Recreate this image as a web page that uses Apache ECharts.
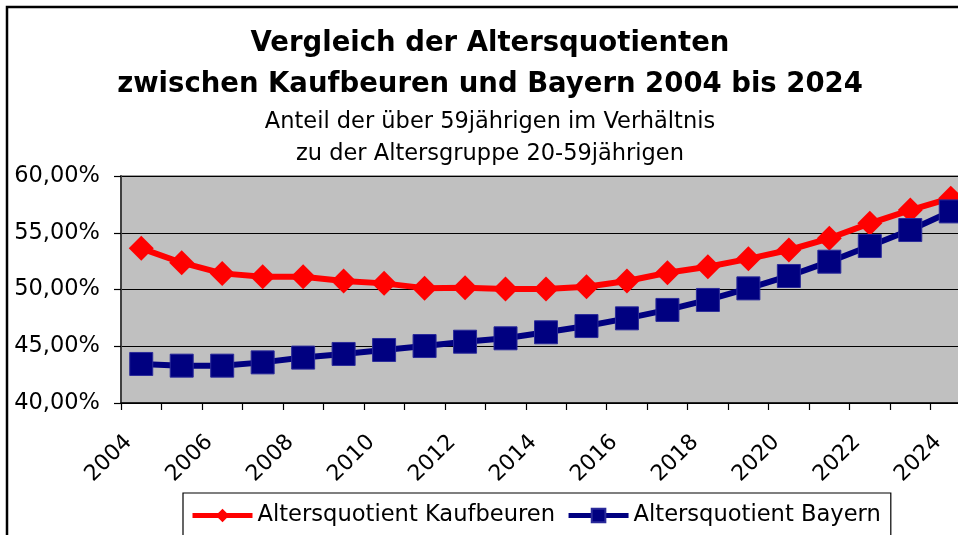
<!DOCTYPE html>
<html>
<head>
<meta charset="utf-8">
<script src="https://cdn.jsdelivr.net/npm/echarts@6/dist/echarts.min.js"></script>
<style>
html,body{margin:0;padding:0;background:#fff;}
#c{width:958px;height:535px;}
</style>
</head>
<body>
<div id="c"></div>
<script>
const years = ['2004','2005','2006','2007','2008','2009','2010','2011','2012','2013','2014','2015','2016','2017','2018','2019','2020','2021','2022','2023','2024'];
const kaufbeuren = [53.63,52.36,51.42,51.13,51.13,50.75,50.54,50.12,50.16,50.04,50.04,50.25,50.75,51.48,52.01,52.70,53.48,54.51,55.83,57.00,58.05];
const bayern = [43.44,43.29,43.29,43.58,44.00,44.32,44.67,45.02,45.40,45.70,46.23,46.78,47.46,48.20,49.08,50.10,51.19,52.45,53.83,55.24,56.88];
const seriesNames = ['Altersquotient Kaufbeuren','Altersquotient Bayern'];
const titleLines = ['Vergleich der Altersquotienten','zwischen Kaufbeuren und Bayern 2004 bis 2024'];
const subtitleLines = ['Anteil der über 59jährigen im Verhältnis','zu der Altersgruppe 20-59jährigen'];
const yMin = 40, yMax = 60, yStep = 5;

const FONT = '"DejaVu Sans", sans-serif';
const chart = echarts.init(document.getElementById('c'), null, {renderer:'canvas'});
chart.setOption({
  animation:false,
  backgroundColor:'#ffffff',
  textStyle:{fontFamily:FONT},
  graphic:[{
    type:'rect', z:-1, silent:true,
    shape:{x:7,y:7,width:1000,height:600},
    style:{fill:'none',stroke:'#000',lineWidth:2.5}
  }],
  title:[{
    text:titleLines.join('\n'),
    left:490, top:23, textAlign:'center', padding:0,
    textStyle:{fontFamily:FONT,fontSize:27.5,fontWeight:'bold',color:'#000',lineHeight:41}
  },{
    text:subtitleLines.join('\n'),
    left:490, top:106, textAlign:'center', padding:0,
    textStyle:{fontFamily:FONT,fontSize:22.5,fontWeight:'normal',color:'#000',lineHeight:32}
  }],
  legend:{
    left:183, top:493,
    padding:[11,10,20,7],
    borderColor:'#000', borderWidth:1.2,
    itemWidth:60, itemHeight:17, itemGap:11,
    lineStyle:{width:5},
    textStyle:{fontFamily:FONT,fontSize:22.6,color:'#000'},
    data:seriesNames
  },
  grid:{
    left:121, top:176, width:850, height:227,
    outerBoundsMode:'none', containLabel:false,
    show:true, backgroundColor:'#c0c0c0', borderColor:'#808080', borderWidth:1.5
  },
  xAxis:{
    type:'category', data:years, boundaryGap:true,
    axisLine:{show:true,lineStyle:{color:'#000',width:1.5}},
    axisTick:{show:true,interval:0,length:7,inside:false,lineStyle:{color:'#000',width:1.2}},
    axisLabel:{interval:1,rotate:45,margin:23,padding:[0,18,0,0],fontSize:22,fontFamily:FONT,color:'#000'},
    splitLine:{show:false}
  },
  yAxis:{
    type:'value', min:yMin, max:yMax, interval:yStep,
    axisLine:{show:true,lineStyle:{color:'#404040',width:2}},
    axisTick:{show:true,length:7,lineStyle:{color:'#000',width:1.2}},
    axisLabel:{margin:21,fontSize:22.5,fontFamily:FONT,color:'#000',
      formatter:v=>v.toFixed(2).replace('.',',')+'%'},
    splitLine:{show:true,lineStyle:{color:'#000',width:1.2}}
  },
  series:[{
    name:seriesNames[0], type:'line', data:kaufbeuren,
    symbol:'diamond', symbolSize:25,
    lineStyle:{color:'#ff0000',width:6},
    itemStyle:{color:'#ff0000',borderColor:'#ff0000',borderWidth:0},
    z:3
  },{
    name:seriesNames[1], type:'line', data:bayern,
    symbol:'rect', symbolSize:23,
    lineStyle:{color:'#000080',width:6},
    itemStyle:{color:'#000080',borderColor:'#2a2a9a',borderWidth:1},
    z:4
  }]
});
</script>
</body>
</html>
